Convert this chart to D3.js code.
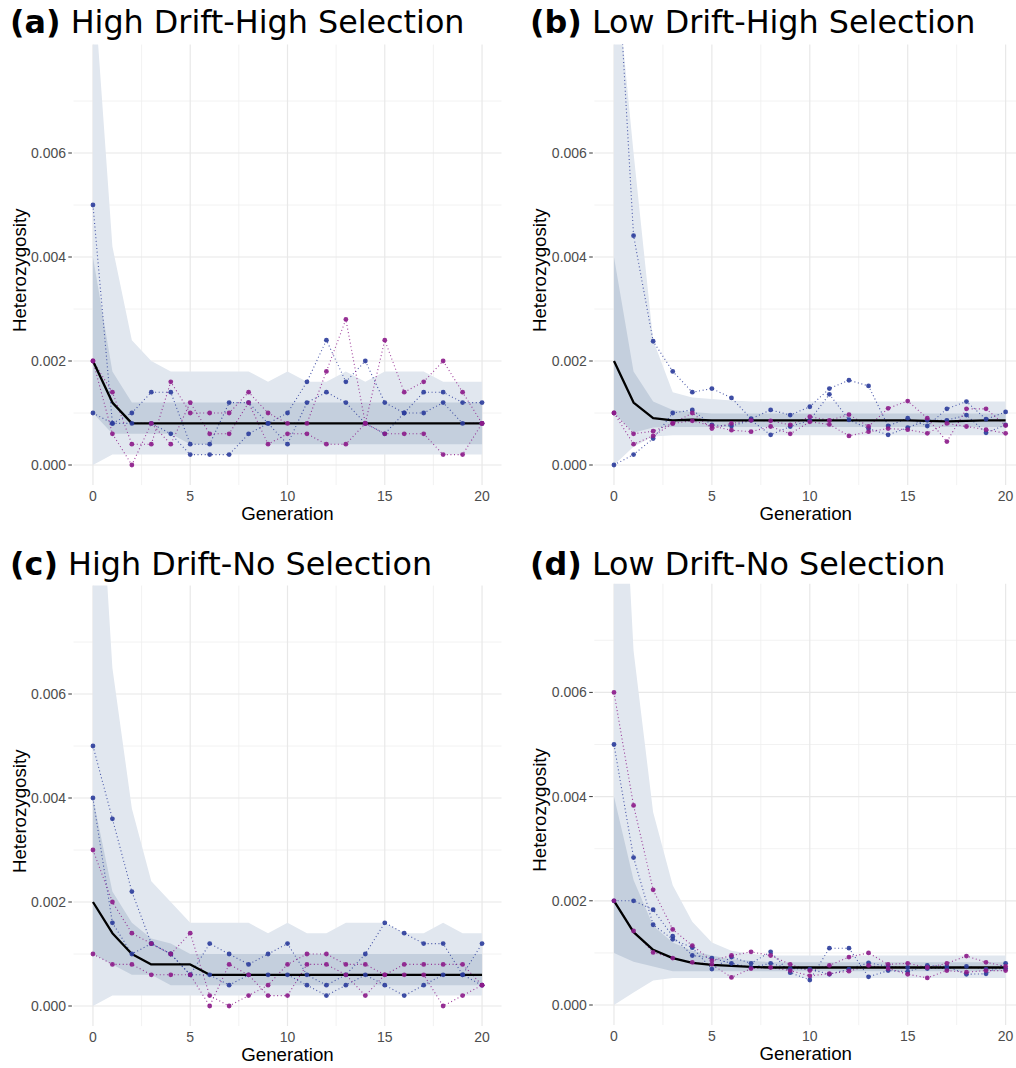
<!DOCTYPE html>
<html>
<head>
<meta charset="utf-8">
<script src="https://cdn.jsdelivr.net/npm/d3@7"></script>
<style>
  html, body { margin: 0; padding: 0; background: #ffffff; }
  svg { display: block; }
</style>
</head>
<body>
<svg id="chart" width="1016" height="1068"></svg>
<script>
// ---------------- DATA ----------------
const generations = [0,1,2,3,4,5,6,7,8,9,10,11,12,13,14,15,16,17,18,19,20];
const xTicks = [0,5,10,15,20];
const yTicks = [0.000,0.002,0.004,0.006];
const yTickLabels = ["0.000","0.002","0.004","0.006"];

// (a) High Drift-High Selection
const a_blue1   = [.0050,.0008,.0010,.0014,.0014,.0004,.0004,.0012,.0012,.0008,.0010,.0016,.0024,.0016,.0020,.0012,.0010,.0014,.0014,.0012,.0012];
const a_blue2   = [.0010,.0008,.0008,.0008,.0006,.0002,.0002,.0002,.0006,.0008,.0004,.0012,.0014,.0012,.0008,.0006,.0010,.0010,.0012,.0008,.0008];
const a_purple1 = [.0020,.0014,.0004,.0004,.0016,.0010,.0010,.0010,.0014,.0010,.0008,.0008,.0018,.0028,.0008,.0024,.0014,.0016,.0020,.0014,.0008];
const a_purple2 = [.0020,.0006,.0000,.0008,.0004,.0012,.0006,.0006,.0012,.0004,.0006,.0006,.0004,.0004,.0008,.0006,.0006,.0006,.0002,.0002,.0008];
const a_mean    = [.0020,.0012,.0008,.0008,.0008,.0008,.0008,.0008,.0008,.0008,.0008,.0008,.0008,.0008,.0008,.0008,.0008,.0008,.0008,.0008,.0008];
const a_outerHi = [.0095,.0042,.0024,.0020,.0018,.0018,.0018,.0018,.0018,.0016,.0018,.0016,.0016,.0018,.0016,.0018,.0018,.0018,.0016,.0016,.0016];
const a_outerLo = [.0000,.0002,.0002,.0002,.0002,.0002,.0002,.0002,.0002,.0002,.0002,.0002,.0002,.0002,.0002,.0002,.0002,.0002,.0002,.0002,.0002];
const a_innerHi = [.0040,.0018,.0012,.0012,.0012,.0012,.0012,.0012,.0012,.0012,.0012,.0012,.0012,.0012,.0012,.0012,.0012,.0012,.0012,.0012,.0012];
const a_innerLo = [.0010,.0006,.0006,.0006,.0006,.0004,.0004,.0004,.0004,.0004,.0004,.0004,.0004,.0004,.0004,.0004,.0004,.0004,.0004,.0004,.0004];

// (b) Low Drift-High Selection
const b_blue1   = [.0110,.00441,.00238,.00180,.00140,.00147,.00129,.00089,.00106,.00096,.00112,.00147,.00163,.00152,.00075,.00090,.00075,.00108,.00122,.00088,.00102];
const b_blue2   = [.0000,.00020,.00051,.00100,.00106,.00077,.00075,.00086,.00058,.00074,.00086,.00136,.00087,.00070,.00058,.00072,.00086,.00086,.00096,.00062,.00077];
const b_purple1 = [.0010,.00060,.00065,.00080,.00100,.00070,.00080,.00086,.00085,.00077,.00093,.00086,.00097,.00074,.00109,.00123,.00090,.00045,.00108,.00108,.00076];
const b_purple2 = [.0010,.00040,.00056,.00080,.00085,.00075,.00067,.00064,.00074,.00060,.00083,.00078,.00056,.00064,.00070,.00068,.00061,.00080,.00074,.00068,.00061];
const b_mean    = [.0020,.0012,.00090,.00086,.00087,.00086,.00086,.00086,.00086,.00086,.00086,.00086,.00086,.00086,.00086,.00086,.00085,.00084,.00085,.00086,.00086];
const b_outerHi = [.0099,.0060,.0024,.0014,.0013,.00127,.00124,.00122,.00122,.00122,.00122,.00122,.00122,.00122,.00122,.00122,.00122,.00122,.00122,.00122,.00122];
const b_outerLo = [.0000,.00035,.00055,.00057,.00057,.00057,.00057,.00057,.00057,.00057,.00057,.00057,.00057,.00057,.00057,.00057,.00057,.00057,.00057,.00057,.00057];
const b_innerHi = [.0040,.0018,.00122,.00106,.00102,.00099,.00099,.00099,.00099,.00099,.00099,.00099,.00099,.00099,.00099,.00099,.00099,.00099,.00099,.00099,.00099];
const b_innerLo = [.0010,.00062,.00072,.00073,.00073,.00073,.00073,.00073,.00073,.00073,.00073,.00073,.00073,.00073,.00073,.00073,.00073,.00073,.00073,.00073,.00073];

// (c) High Drift-No Selection
const c_blue1   = [.0050,.0036,.0022,.0012,.0010,.0006,.0012,.0010,.0008,.0010,.0012,.0006,.0004,.0006,.0010,.0016,.0014,.0012,.0012,.0006,.0012];
const c_blue2   = [.0040,.0016,.0010,.0012,.0010,.0006,.0006,.0004,.0006,.0006,.0006,.0004,.0002,.0004,.0006,.0004,.0002,.0004,.0006,.0006,.0004];
const c_purple1 = [.0030,.0020,.0014,.0012,.0010,.0014,.0002,.0000,.0002,.0004,.0008,.0010,.0010,.0008,.0008,.0006,.0008,.0008,.0008,.0008,.0004];
const c_purple2 = [.0010,.0008,.0008,.0006,.0006,.0006,.0000,.0008,.0006,.0002,.0002,.0008,.0008,.0006,.0002,.0006,.0006,.0006,.0000,.0002,.0004];
const c_mean    = [.0020,.0014,.0010,.0008,.0008,.0008,.0006,.0006,.0006,.0006,.0006,.0006,.0006,.0006,.0006,.0006,.0006,.0006,.0006,.0006,.0006];
const c_outerHi = [.0126,.0065,.0038,.0024,.0020,.0016,.0016,.0016,.0016,.0014,.0016,.0014,.0014,.0016,.0016,.0016,.0014,.0014,.0016,.0014,.0014];
const c_outerLo = [.0000,.0002,.0002,.0002,.0002,.0002,.0002,.0002,.0002,.0002,.0002,.0002,.0002,.0002,.0002,.0002,.0002,.0002,.0002,.0002,.0002];
const c_innerHi = [.0040,.0022,.0016,.0013,.0012,.0010,.0010,.0010,.0010,.0010,.0010,.0010,.0010,.0010,.0010,.0010,.0010,.0010,.0010,.0010,.0010];
const c_innerLo = [.0010,.0008,.0006,.0006,.0004,.0004,.0004,.0004,.0004,.0004,.0004,.0004,.0004,.0004,.0004,.0004,.0004,.0004,.0004,.0004,.0004];

// (d) Low Drift-No Selection
const d_blue1   = [.0050,.00283,.00154,.00126,.00110,.00069,.00092,.00080,.00102,.00062,.00048,.00109,.00109,.00054,.00066,.00064,.00076,.00074,.00059,.00060,.00080];
const d_blue2   = [.0020,.00200,.00183,.00132,.00095,.00090,.00080,.00072,.00080,.00070,.00069,.00059,.00069,.00081,.00074,.00072,.00070,.00070,.00074,.00069,.00070];
const d_purple1 = [.0060,.00383,.00221,.00145,.00114,.00085,.00095,.00102,.00095,.00078,.00066,.00076,.00092,.00100,.00078,.00080,.00072,.00080,.00094,.00082,.00074];
const d_purple2 = [.0020,.00142,.00101,.00090,.00082,.00078,.00053,.00070,.00072,.00066,.00056,.00060,.00065,.00076,.00070,.00059,.00052,.00066,.00063,.00066,.00066];
const d_mean    = [.0020,.0014,.00106,.00090,.00081,.00077,.00075,.00073,.00072,.00072,.00072,.00072,.00072,.00072,.00072,.00072,.00072,.00072,.00072,.00072,.00072];
const d_outerHi = [.0140,.0068,.0037,.0023,.0016,.0012,.00104,.00098,.00095,.00095,.00095,.00095,.00095,.00095,.00095,.00095,.00095,.00095,.00095,.00095,.00095];
const d_outerLo = [.0000,.00024,.00047,.00052,.00052,.00052,.00052,.00052,.00052,.00052,.00052,.00052,.00052,.00052,.00052,.00052,.00052,.00052,.00052,.00052,.00052];
const d_innerHi = [.0040,.0024,.00152,.0012,.00104,.00095,.00088,.00085,.00082,.00082,.00082,.00082,.00082,.00082,.00082,.00082,.00082,.00082,.00082,.00082,.00082];
const d_innerLo = [.0010,.00083,.00074,.00065,.00065,.00065,.00065,.00065,.00065,.00065,.00065,.00065,.00065,.00065,.00065,.00065,.00065,.00065,.00065,.00065,.00065];

const panelLetters = ["(a)","(b)","(c)","(d)"];
const panelTitles = [" High Drift-High Selection"," Low Drift-High Selection"," High Drift-No Selection"," Low Drift-No Selection"];
const xLabel = "Generation";
const yLabel = "Heterozygosity";

// ---------------- LAYOUT / STYLE ----------------
const BLUE = "#2b3c9b", PURPLE = "#8c1b89";
const OUTER = "#e1e7ef", INNER = "#c4cfdd";

const panels = [
  {letter:0, blues:[a_blue1,a_blue2], purples:[a_purple1,a_purple2], mean:a_mean, oh:a_outerHi, ol:a_outerLo, ih:a_innerHi, il:a_innerLo,
   left:73.5, right:501.5, zero:465, ppu:52000, titleX:10, titleY:33},
  {letter:1, blues:[b_blue1,b_blue2], purples:[b_purple1,b_purple2], mean:b_mean, oh:b_outerHi, ol:b_outerLo, ih:b_innerHi, il:b_innerLo,
   left:594.4, right:1025.2, zero:465, ppu:52000, titleX:530, titleY:33},
  {letter:2, blues:[c_blue1,c_blue2], purples:[c_purple1,c_purple2], mean:c_mean, oh:c_outerHi, ol:c_outerLo, ih:c_innerHi, il:c_innerLo,
   left:73.5, right:501.5, zero:1006, ppu:52000, titleX:10, titleY:575},
  {letter:3, blues:[d_blue1,d_blue2], purples:[d_purple1,d_purple2], mean:d_mean, oh:d_outerHi, ol:d_outerLo, ih:d_innerHi, il:d_innerLo,
   left:594.4, right:1025.2, zero:1005, ppu:52100, titleX:530, titleY:575}
];

const yDomain = [-0.000385, 0.008085];
const svg = d3.select("#chart");

panels.forEach((p, idx) => {
  const top = p.zero - yDomain[1]*p.ppu;
  const bottom = p.zero - yDomain[0]*p.ppu;
  const x = d3.scaleLinear().domain([-1,21]).range([p.left, p.right]);
  const y = d3.scaleLinear().domain(yDomain).range([bottom, top]);
  const g = svg.append("g");

  const clipId = "clip" + idx;
  svg.append("clipPath").attr("id", clipId)
    .append("rect").attr("x", p.left).attr("y", top).attr("width", p.right - p.left).attr("height", bottom - top);

  // grid
  const gridG = g.append("g");
  const xMinor = [2.5,7.5,12.5,17.5];
  const yMinor = [0.001,0.003,0.005,0.007];
  gridG.selectAll(".hmin").data(yMinor).join("line")
    .attr("x1", p.left).attr("x2", Math.min(p.right,1016)).attr("y1", d=>y(d)).attr("y2", d=>y(d))
    .attr("stroke", "#efefef").attr("stroke-width", 0.8);
  gridG.selectAll(".vmin").data(xMinor).join("line")
    .attr("y1", top).attr("y2", bottom).attr("x1", d=>x(d)).attr("x2", d=>x(d))
    .attr("stroke", "#efefef").attr("stroke-width", 0.8);
  gridG.selectAll(".hmaj").data(yTicks).join("line")
    .attr("x1", p.left).attr("x2", Math.min(p.right,1016)).attr("y1", d=>y(d)).attr("y2", d=>y(d))
    .attr("stroke", "#e8e8e8").attr("stroke-width", 1.2);
  gridG.selectAll(".vmaj").data(xTicks).join("line")
    .attr("y1", top).attr("y2", bottom).attr("x1", d=>x(d)).attr("x2", d=>x(d))
    .attr("stroke", "#e8e8e8").attr("stroke-width", 1.2);

  const dg = g.append("g").attr("clip-path", `url(#${clipId})`);

  const area = (hi, lo) => d3.area()
    .x((d,i)=>x(generations[i]))
    .y0((d,i)=>y(lo[i]))
    .y1((d,i)=>y(hi[i]));
  dg.append("path").datum(generations).attr("d", area(p.oh, p.ol)).attr("fill", OUTER);
  dg.append("path").datum(generations).attr("d", area(p.ih, p.il)).attr("fill", INNER);

  const line = d3.line().x((d,i)=>x(generations[i])).y(d=>y(d));
  const series = [
    ...p.blues.map(v => ({v, c: BLUE})),
    ...p.purples.map(v => ({v, c: PURPLE}))
  ];
  series.forEach(s => {
    dg.append("path").datum(s.v).attr("d", line)
      .attr("fill","none").attr("stroke", s.c).attr("stroke-width", 1.1)
      .attr("stroke-dasharray","1,2.6").attr("opacity", 0.85);
  });
  dg.append("path").datum(p.mean).attr("d", line)
    .attr("fill","none").attr("stroke","#000").attr("stroke-width", 2.3).attr("stroke-linejoin","round");
  series.forEach(s => {
    dg.selectAll(null).data(s.v).join("circle")
      .attr("cx", (d,i)=>x(generations[i])).attr("cy", d=>y(d)).attr("r", 2.4)
      .attr("fill", s.c).attr("opacity", 0.9);
  });

  // y axis ticks and labels
  const axG = g.append("g");
  axG.selectAll(".yt").data(yTicks).join("line")
    .attr("x1", p.left-5.2).attr("x2", p.left-1.6).attr("y1", d=>y(d)).attr("y2", d=>y(d))
    .attr("stroke", "#333").attr("stroke-width", 1);
  axG.selectAll(".yl").data(yTicks).join("text")
    .attr("x", p.left-7.5).attr("y", d=>y(d)).attr("dy","0.36em")
    .attr("text-anchor","end").attr("font-family","'Liberation Sans', Arial, sans-serif")
    .attr("font-size", 14).attr("fill","#4d4d4d")
    .text((d,i)=>yTickLabels[i]);
  axG.selectAll(".xl").data(xTicks).join("text")
    .attr("x", d=>x(d)).attr("y", bottom + 15.5)
    .attr("text-anchor","middle").attr("font-family","'Liberation Sans', Arial, sans-serif")
    .attr("font-size", 14).attr("fill","#4d4d4d")
    .text(d=>d);

  // axis titles
  g.append("text").attr("x", (p.left + Math.min(p.right, 1016 + 9)) / 2 + (idx%2===1 ? -4 : 0)).attr("y", bottom + 35)
    .attr("text-anchor","middle").attr("font-family","'Liberation Sans', Arial, sans-serif")
    .attr("font-size", 18.7).attr("fill","#000").text(xLabel);
  const cy = (top + bottom)/2 + 5.5;
  g.append("text").attr("transform", `translate(${p.left-48},${cy}) rotate(-90)`)
    .attr("text-anchor","middle").attr("font-family","'Liberation Sans', Arial, sans-serif")
    .attr("font-size", 18.7).attr("fill","#000").text(yLabel);

  // panel title
  const t = g.append("text").attr("x", p.titleX).attr("y", p.titleY)
    .attr("font-family","'DejaVu Sans', sans-serif").attr("font-size", 31.8).attr("fill","#000");
  t.append("tspan").attr("font-weight","bold").text(panelLetters[p.letter]);
  t.append("tspan").text(panelTitles[p.letter]);
});
</script>
</body>
</html>
